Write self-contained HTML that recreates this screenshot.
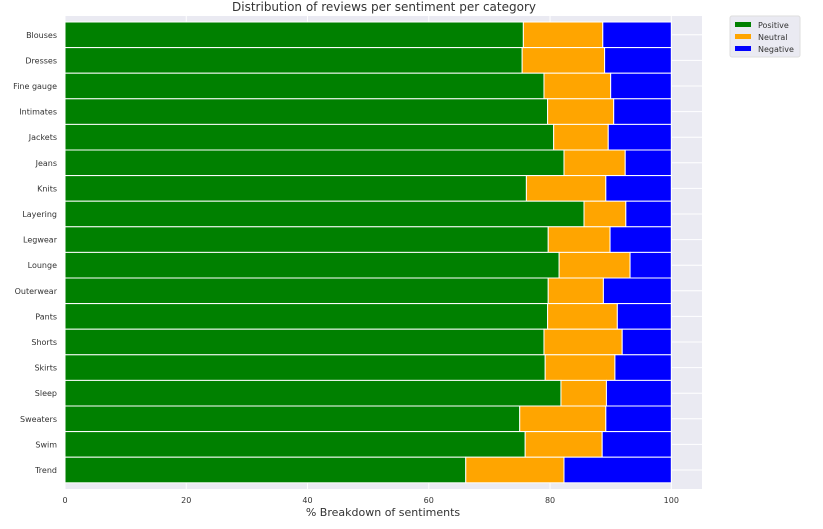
<!DOCTYPE html>
<html><head><meta charset="utf-8"><style>
body{margin:0;background:#fff;font-family:"Liberation Sans","DejaVu Sans",sans-serif;}
svg text{font-family:"DejaVu Sans","Liberation Sans",sans-serif;fill:#333;}
</style></head><body>
<svg id="chart" width="823" height="524">
<text x="384" y="11" font-size="12" text-anchor="middle">Distribution of reviews per sentiment per category</text>
<rect x="65" y="16" width="637" height="473" fill="#eaeaf2"/>
<g id="grid"></g><g id="bars"></g><g id="yt"></g><g id="xt"></g>
<text x="383" y="516" font-size="11" text-anchor="middle">% Breakdown of sentiments</text>
<g>
<rect x="730" y="16" width="70" height="41" fill="#eaeaf2" stroke="#ddd" rx="2"/>
<g><rect x="735" y="22" width="16" height="5" fill="#008000"/><text x="758" y="28" font-size="8">Positive</text></g>
<g><rect x="735" y="34" width="16" height="5" fill="#ffa500"/><text x="758" y="40" font-size="8">Neutral</text></g>
<g><rect x="735" y="46" width="16" height="5" fill="#0000ff"/><text x="758" y="52" font-size="8">Negative</text></g>
</g>
</svg>
<script>
const categories=["Blouses","Dresses","Fine gauge","Intimates","Jackets","Jeans","Knits","Layering","Legwear","Lounge","Outerwear","Pants","Shorts","Skirts","Sleep","Sweaters","Swim","Trend"];
const positive=[75.6,75.4,79.0,79.6,80.6,82.3,76.1,85.6,79.7,81.5,79.7,79.6,79.0,79.2,81.8,75.0,75.9,66.1];
const neutral=[13.1,13.6,11.0,10.9,9.0,10.1,13.1,6.9,10.2,11.7,9.1,11.5,12.9,11.5,7.5,14.2,12.7,16.2];
const xTicks=[0,20,40,60,80,100];
const NS="http://www.w3.org/2000/svg";
const x=v=>65+v*6.063;
const bandTop=22,bandH=25.6;
const y=i=>bandTop+i*bandH;
function mk(t,a,p){const e=document.createElementNS(NS,t);for(const k in a)e.setAttribute(k,a[k]);document.getElementById(p).appendChild(e);return e;}
xTicks.forEach(t=>{
  const l=mk('line',{x1:x(t),x2:x(t),y1:16,y2:489,stroke:'#fff','stroke-width':1},'grid');
  
  
  const tx=mk('text',{x:x(t),y:503,'font-size':8,'text-anchor':'middle'},'xt');
  tx.textContent=t;
  
  
});
categories.forEach((c,i)=>{
  const g=mk('line',{x1:65,x2:702,y1:y(i)+bandH/2,y2:y(i)+bandH/2,stroke:'#fff','stroke-width':1},'grid');
  
  
  const neg=100-positive[i]-neutral[i];
  const segs=[[0,positive[i],'#008000','positive'],[positive[i],neutral[i],'#ffa500','neutral'],[positive[i]+neutral[i],neg,'#0000ff','negative']];
  segs.forEach(s=>{
    const r=mk('rect',{x:x(s[0]),y:y(i),width:x(s[0]+s[1])-x(s[0]),height:bandH,fill:s[2],stroke:'#fff','stroke-width':1},'bars');
    
    
  });
  const t=mk('text',{x:57,y:y(i)+bandH/2+3,'font-size':8,'text-anchor':'end'},'yt');
  t.textContent=c;
  
  
});
</script>
</body></html>
